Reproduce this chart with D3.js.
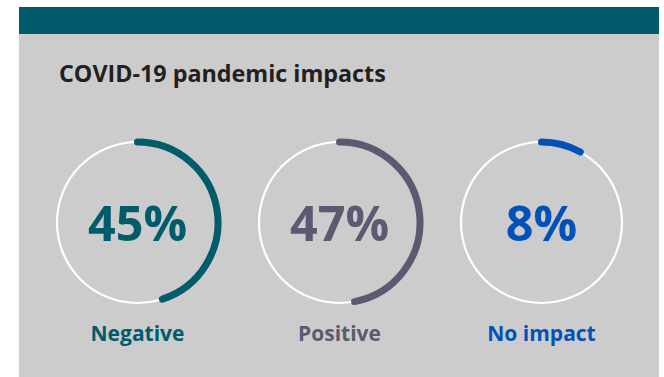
<!DOCTYPE html>
<html>
<head>
<meta charset="utf-8">
<script src="https://cdn.jsdelivr.net/npm/d3@7/dist/d3.min.js"></script>
<style>
  html, body { margin: 0; padding: 0; background: #ffffff; }
  svg { display: block; }
  text { font-family: "Open Sans", "Noto Sans", sans-serif; font-weight: 700; }
</style>
</head>
<body>
<svg id="chart" width="664" height="377"></svg>
<script>
// Survey responses on pandemic impacts
const title = "COVID-19 pandemic impacts";
const categories = ["Negative", "Positive", "No impact"];
const values = [45, 47, 8];
const colors = ["#005b6b", "#5b5a70", "#0052b8"];

const W = 664, H = 377;
const svg = d3.select("#chart");

// panel and header band
svg.append("rect").attr("x", 19).attr("y", 7).attr("width", 640).attr("height", H - 7).attr("fill", "#cccccc");
svg.append("rect").attr("x", 19).attr("y", 7).attr("width", 640).attr("height", 27).attr("fill", "#005a6a");

svg.append("text")
  .attr("x", 59).attr("y", 82)
  .attr("fill", "#231f20")
  .attr("font-size", 23.3)
  .text(title);

const x = d3.scalePoint().domain(categories).range([137.5, 541.5]);
const angle = d3.scaleLinear().domain([0, 100]).range([0, 2 * Math.PI]);
const r = 80.5;
const cy = 222.5;

const g = svg.selectAll("g.ring")
  .data(categories.map((c, i) => ({ cat: c, value: values[i], color: colors[i] })))
  .join("g")
  .attr("class", "ring")
  .attr("transform", d => `translate(${x(d.cat)},${cy})`);

g.append("circle")
  .attr("r", r)
  .attr("fill", "none")
  .attr("stroke", "#ffffff")
  .attr("stroke-width", 2.2);

g.append("path")
  .attr("d", d => {
    const p = d3.path();
    p.arc(0, 0, r, -Math.PI / 2, -Math.PI / 2 + angle(d.value));
    return p.toString();
  })
  .attr("fill", "none")
  .attr("stroke", d => d.color)
  .attr("stroke-width", 7)
  .attr("stroke-linecap", "round");

g.append("text")
  .attr("text-anchor", "middle")
  .attr("y", 18.5)
  .attr("font-size", 48.5)
  .attr("fill", d => d.color)
  .text(d => d.value + "%");

g.append("text")
  .attr("text-anchor", "middle")
  .attr("y", 118)
  .attr("font-size", 21)
  .attr("fill", d => d.color)
  .text(d => d.cat);
</script>
</body>
</html>
